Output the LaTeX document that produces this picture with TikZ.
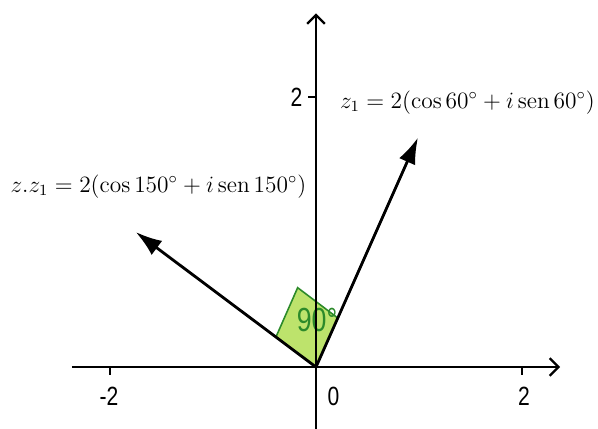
\documentclass[tikz,border=0pt]{standalone}
\usepackage{amsmath,amssymb}
\usepackage{fontspec}
\newfontfamily\axisfont{Liberation Sans}
\usetikzlibrary{arrows.meta, calc}

\definecolor{anglefill}{HTML}{BDE36C}
\definecolor{angleline}{HTML}{2C8A2A}

\newcommand{\narrow}[1]{\scalebox{0.8}[1]{#1}}
\newcommand{\formula}[1]{\scalebox{1.11}{$#1$}}

\tikzset{
  axis/.style={line width=1.5pt, -{Straight Barb[length=5pt,width=10pt,line width=1.3pt]}},
  vec/.style={line width=1.6pt, -{Latex[length=15pt,width=10pt]}},
  tick/.style={line width=1.2pt},
  ticklabel/.style={font=\axisfont\fontsize{15}{15}\selectfont},
  formulalabel/.style={font=\large}
}

\begin{document}
\begin{tikzpicture}[x=2.06cm, y=2.7cm]
  \useasboundingbox (-3.068,-0.452) rectangle (2.738,2.719);
  % angle mark
  \coordinate (O) at (0,0);
  \coordinate (a1) at (0.21,0.364);
  \coordinate (a2) at (-0.388,0.224);
  \fill[anglefill] (O) -- (a1) -- ($(a1)+(a2)$) -- (a2) -- cycle;
  \draw[angleline, line width=0.9pt] (a1) -- ($(a1)+(a2)$) -- (a2);
  \node[text=angleline, font=\axisfont\fontsize{19}{19}\selectfont] (ang) at (0.01,0.35) {\narrow{90°}};
  % axes
  \coordinate (xl) at (-2.37,0);
  \coordinate (xr) at (2.37,0);
  \coordinate (yb) at (0,-0.46);
  \coordinate (yt) at (0,2.62);
  \draw[axis] (xl) -- (xr);
  \draw[axis] (yb) -- (yt);
  % ticks
  \draw[tick] (2,0) -- (2,-0.06);
  \draw[tick] (-2,0) -- (-2,-0.06);
  \draw[tick] (0,2) -- (-0.08,2);
  \node[ticklabel] (t2) at (2.02,-0.22) {\narrow{2}};
  \node[ticklabel] (tm2) at (-2.01,-0.22) {\narrow{-2}};
  \node[ticklabel] (t0) at (0.17,-0.22) {\narrow{0}};
  \node[ticklabel] (ty2) at (-0.19,2.0) {\narrow{2}};
  % vectors
  \coordinate (z1) at (0.99,1.70);
  \coordinate (zz1) at (-1.75,1.0);
  \draw[vec] (O) -- (z1);
  \draw[vec] (O) -- (zz1);
  \node[formulalabel] (lz1) at (1.47,1.96) {\formula{z_1=2(\cos 60^\circ+i\,\mathrm{sen}\,60^\circ)}};
  \node[formulalabel] (lzz1) at (-1.53,1.34) {\formula{z.z_1=2(\cos 150^\circ+i\,\mathrm{sen}\,150^\circ)}};
\end{tikzpicture}
\end{document}
